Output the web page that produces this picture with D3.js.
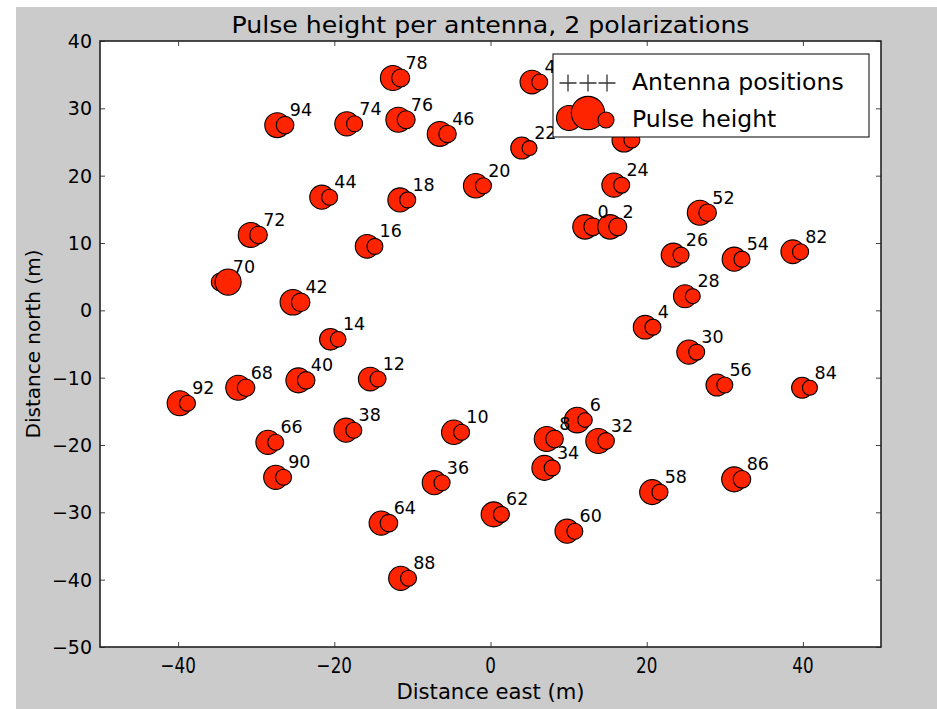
<!DOCTYPE html>
<html><head><meta charset="utf-8">
<script src="https://cdn.jsdelivr.net/npm/d3@7"></script>
<style>body{margin:0;background:#fff} svg{display:block} text{font-family:"DejaVu Sans",sans-serif}</style>
</head><body><svg id="c" width="937" height="709"></svg>
<script>
const chartTitle = "Pulse height per antenna, 2 polarizations";
const xLabel = "Distance east (m)";
const yLabel = "Distance north (m)";
const legendLabels = ["Antenna positions", "Pulse height"];
const xTicks = [-40, -20, 0, 20, 40];
const yTicks = [40, 30, 20, 10, 0, -10, -20, -30, -40, -50];

const antennaLabels = [0,2,4,6,8,10,12,14,16,18,20,22,24,26,28,30,32,34,36,38,40,42,44,46,48,50,52,54,56,58,60,62,64,66,68,70,72,74,76,78,82,84,86,88,90,92,94];
// labels hidden behind the legend box in the reference
const hiddenLabels = [50];
const eastPol0  = [12.1,15.3,19.8,11.1,7.2,-4.7,-15.4,-20.5,-15.8,-11.6,-1.9,4.0,15.8,23.4,24.9,25.4,13.8,6.9,-7.2,-18.5,-24.6,-25.3,-21.6,-6.5,5.3,17.1,26.8,31.2,29.0,20.7,9.8,0.4,-14.0,-28.5,-32.3,-34.6,-30.7,-18.4,-11.8,-12.5,38.7,39.9,31.2,-11.5,-27.5,-39.8,-27.3];
const northPol0 = [12.4,12.4,-2.5,-16.3,-19.1,-18.1,-10.2,-4.3,9.5,16.4,18.5,24.1,18.6,8.2,2.1,-6.2,-19.4,-23.4,-25.6,-17.8,-10.4,1.2,16.8,26.2,33.9,25.3,14.5,7.6,-11.1,-27.0,-32.8,-30.3,-31.6,-19.6,-11.5,4.2,11.2,27.7,28.3,34.5,8.7,-11.5,-25.1,-39.8,-24.8,-13.8,27.5];
const eastPol1  = [13.1,16.3,20.8,12.1,8.2,-3.7,-14.4,-19.5,-14.8,-10.6,-0.9,5.0,16.8,24.4,25.9,26.4,14.8,7.9,-6.2,-17.5,-23.6,-24.3,-20.6,-5.5,6.3,18.1,27.8,32.2,30.0,21.7,10.8,1.4,-13.0,-27.5,-31.3,-33.6,-29.7,-17.4,-10.8,-11.5,39.7,40.9,32.2,-10.5,-26.5,-38.8,-26.3];
const northPol1 = [12.4,12.4,-2.5,-16.3,-19.1,-18.1,-10.2,-4.3,9.5,16.4,18.5,24.1,18.6,8.2,2.1,-6.2,-19.4,-23.4,-25.6,-17.8,-10.4,1.2,16.8,26.2,33.9,25.3,14.5,7.6,-11.1,-27.0,-32.8,-30.3,-31.6,-19.6,-11.5,4.2,11.2,27.7,28.3,34.5,8.7,-11.5,-25.1,-39.8,-24.8,-13.8,27.5];
const pulsePol0 = [150,150,140,164,156,150,140,117,140,145,150,121,145,145,132,145,156,156,145,145,156,164,145,156,140,145,156,145,121,156,145,156,145,145,156,81,156,145,156,156,140,110,156,145,145,156,156];
const pulsePol1 = [81,81,64,53,77,64,64,61,64,64,64,56,64,64,56,64,69,64,64,64,77,85,64,76,64,64,77,64,64,64,64,64,77,64,77,170,77,64,81,81,64,56,77,64,64,64,77];
const legendPulse = [156, 278, 64];

const svg = d3.select("#c");
const W = 937, H = 709;
const x = d3.scaleLinear().domain([-50, 50]).range([100, 881]);
const y = d3.scaleLinear().domain([-50, 40]).range([647, 41]);
const r = d3.scaleSqrt().domain([0, 200]).range([0, Math.sqrt(200)]);
const fill = "#ff2400";

svg.append("rect").attr("x", 16).attr("y", 7).attr("width", W - 16).attr("height", H - 7).attr("fill", "#cbcbcb");
svg.append("rect").attr("x", x(-50)).attr("y", y(40)).attr("width", x(50) - x(-50)).attr("height", y(-50) - y(40)).attr("fill", "#fff");

const plot = svg.append("g");
const data = antennaLabels.map((l, i) => ({label: l, e0: eastPol0[i], n0: northPol0[i], e1: eastPol1[i], n1: northPol1[i], p0: pulsePol0[i], p1: pulsePol1[i]}));

const crossPath = (cx, cy, s) => `M${cx - s},${cy}H${cx + s}M${cx},${cy - s}V${cy + s}`;
data.forEach(d => {
  plot.append("path").attr("d", crossPath(x(d.e0), y(d.n0), 5)).attr("stroke", "#333").attr("stroke-width", 1);
  plot.append("path").attr("d", crossPath(x(d.e1), y(d.n1), 5)).attr("stroke", "#333").attr("stroke-width", 1);
});
data.forEach(d => {
  plot.append("circle").attr("cx", x(d.e0)).attr("cy", y(d.n0)).attr("r", r(d.p0)).attr("fill", fill).attr("stroke", "#000").attr("stroke-width", 1.1);
  plot.append("circle").attr("cx", x(d.e1)).attr("cy", y(d.n1)).attr("r", r(d.p1)).attr("fill", fill).attr("stroke", "#000").attr("stroke-width", 1.1);
});
plot.selectAll("text.ann").data(data.filter(d => !hiddenLabels.includes(d.label))).join("text").attr("class", "ann")
  .attr("x", d => x(d.e0) + 12.5).attr("y", d => y(d.n0) - 9)
  .attr("font-size", 17.5).attr("fill", "#000").text(d => d.label);

const tickColor = "#444";
const axB = d3.axisBottom(x).tickValues(xTicks).tickSizeInner(-5).tickSizeOuter(0).tickFormat("");
const axT = d3.axisTop(x).tickValues(xTicks).tickSizeInner(-5).tickSizeOuter(0).tickFormat("");
const axL = d3.axisLeft(y).tickValues(yTicks).tickSizeInner(-5).tickSizeOuter(0).tickFormat("");
const axR = d3.axisRight(y).tickValues(yTicks).tickSizeInner(-5).tickSizeOuter(0).tickFormat("");
[[axB, `translate(0,${y(-50)})`], [axT, `translate(0,${y(40)})`], [axL, `translate(${x(-50)},0)`], [axR, `translate(${x(50)},0)`]].forEach(([a, t]) => {
  const g = svg.append("g").attr("transform", t).call(a);
  g.select(".domain").remove();
  g.selectAll("line").attr("stroke", tickColor).attr("stroke-width", 1);
});
svg.append("rect").attr("x", x(-50)).attr("y", y(40)).attr("width", x(50) - x(-50)).attr("height", y(-50) - y(40))
  .attr("fill", "none").attr("stroke", "#222").attr("stroke-width", 1.6);

const fmt = d3.format("d");
svg.selectAll("text.xt").data(xTicks).join("text").attr("class", "xt")
  .attr("transform", d => `translate(${x(d)},673) scale(0.8,1)`).attr("text-anchor", "middle")
  .attr("font-size", 21).attr("fill", "#000").text(d => fmt(d));
svg.selectAll("text.yt").data(yTicks).join("text").attr("class", "yt")
  .attr("x", 92).attr("y", d => y(d) + 7).attr("text-anchor", "end")
  .attr("font-size", 19).attr("fill", "#000").text(d => fmt(d));

svg.append("text").attr("x", (x(-50) + x(50)) / 2).attr("y", 33).attr("text-anchor", "middle")
  .attr("font-size", 23).attr("textLength", 518).attr("lengthAdjust", "spacingAndGlyphs").text(chartTitle);
svg.append("text").attr("x", (x(-50) + x(50)) / 2).attr("y", 699).attr("text-anchor", "middle")
  .attr("font-size", 21).attr("textLength", 188).attr("lengthAdjust", "spacingAndGlyphs").text(xLabel);
svg.append("text").attr("transform", `translate(40,${(y(40) + y(-50)) / 2}) rotate(-90)`).attr("text-anchor", "middle")
  .attr("font-size", 20).text(yLabel);

const lg = svg.append("g");
lg.append("rect").attr("x", 553).attr("y", 54).attr("width", 316).attr("height", 83).attr("fill", "#fff").attr("stroke", "#000").attr("stroke-width", 1);
[568, 588, 607].forEach(cx => lg.append("path").attr("d", crossPath(cx, 83, 8.5)).attr("stroke", "#333").attr("stroke-width", 1.3));
[[569, 118], [588, 113], [606, 120]].forEach(([cx, cy], i) => lg.append("circle").attr("cx", cx).attr("cy", cy).attr("r", r(legendPulse[i]))
  .attr("fill", fill).attr("stroke", "#000").attr("stroke-width", 1.1));
lg.append("text").attr("x", 632).attr("y", 90).attr("font-size", 23.5).text(legendLabels[0]);
lg.append("text").attr("x", 632).attr("y", 127).attr("font-size", 23.5).text(legendLabels[1]);
</script></body></html>
